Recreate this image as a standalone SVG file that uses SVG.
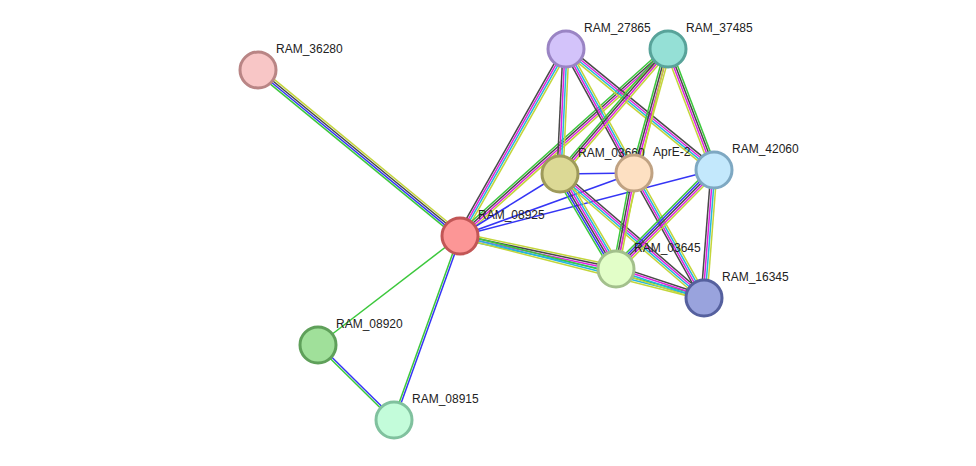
<svg xmlns="http://www.w3.org/2000/svg" width="976" height="466" viewBox="0 0 976 466">
<style>
line{stroke-width:1.5;fill:none}
.g{stroke:#3cc83c}.b{stroke:#3535f5}.k{stroke:#484848}.m{stroke:#dd22dd}.c{stroke:#25b5dc}.y{stroke:#c3d53a}
.node circle{stroke-width:3}
text{font-family:"Liberation Sans",Arial,sans-serif;font-size:12px;fill:#222}
</style>
<rect width="976" height="466" fill="#ffffff"/>
<g id="edges">
<g transform="translate(258,70) rotate(39.42)"><line class="y" x1="0" y1="-3" x2="261.5" y2="-3"/><line class="k" x1="0" y1="-1" x2="261.5" y2="-1"/><line class="b" x1="0" y1="1" x2="261.5" y2="1"/><line class="g" x1="0" y1="3" x2="261.5" y2="3"/></g>
<line class="g" x1="460" y1="236" x2="318" y2="345"/>
<g transform="translate(460,236) rotate(109.73)"><line class="b" x1="0" y1="-1" x2="195.5" y2="-1"/><line class="g" x1="0" y1="1" x2="195.5" y2="1"/></g>
<g transform="translate(318,345) rotate(44.62)"><line class="b" x1="0" y1="-1" x2="106.8" y2="-1"/><line class="g" x1="0" y1="1" x2="106.8" y2="1"/></g>
<g transform="translate(460,236) rotate(-60.46)"><line class="k" x1="0" y1="-3" x2="215" y2="-3"/><line class="m" x1="0" y1="-1" x2="215" y2="-1"/><line class="c" x1="0" y1="1" x2="215" y2="1"/><line class="y" x1="0" y1="3" x2="215" y2="3"/></g>
<g transform="translate(460,236) rotate(-41.96)"><line class="g" x1="0" y1="-3" x2="279.7" y2="-3"/><line class="k" x1="0" y1="-1" x2="279.7" y2="-1"/><line class="m" x1="0" y1="1" x2="279.7" y2="1"/><line class="y" x1="0" y1="3" x2="279.7" y2="3"/></g>
<line class="b" x1="460" y1="236" x2="560" y2="174"/>
<line class="b" x1="460" y1="236" x2="634" y2="173"/>
<line class="b" x1="460" y1="236" x2="714" y2="170"/>
<g transform="translate(460,236) rotate(11.94)"><line class="y" x1="0" y1="-3" x2="159.5" y2="-3"/><line class="k" x1="0" y1="-1" x2="159.5" y2="-1"/><line class="m" x1="0" y1="1" x2="159.5" y2="1"/><line class="c" x1="0" y1="3" x2="159.5" y2="3"/></g>
<g transform="translate(460,236) rotate(14.26)"><line class="g" x1="0" y1="-2" x2="251.8" y2="-2"/><line class="c" x1="0" y1="0" x2="251.8" y2="0"/><line class="y" x1="0" y1="2" x2="251.8" y2="2"/></g>
<g transform="translate(566,49) rotate(92.75)"><line class="k" x1="0" y1="3" x2="125.1" y2="3"/><line class="m" x1="0" y1="1" x2="125.1" y2="1"/><line class="c" x1="0" y1="-1" x2="125.1" y2="-1"/><line class="y" x1="0" y1="-3" x2="125.1" y2="-3"/></g>
<g transform="translate(566,49) rotate(61.26)"><line class="k" x1="0" y1="3" x2="141.4" y2="3"/><line class="m" x1="0" y1="1" x2="141.4" y2="1"/><line class="c" x1="0" y1="-1" x2="141.4" y2="-1"/><line class="y" x1="0" y1="-3" x2="141.4" y2="-3"/></g>
<g transform="translate(566,49) rotate(39.27)"><line class="k" x1="0" y1="-3" x2="191.2" y2="-3"/><line class="m" x1="0" y1="-1" x2="191.2" y2="-1"/><line class="c" x1="0" y1="1" x2="191.2" y2="1"/><line class="y" x1="0" y1="3" x2="191.2" y2="3"/></g>
<g transform="translate(668,49) rotate(130.83)"><line class="g" x1="0" y1="3" x2="165.2" y2="3"/><line class="k" x1="0" y1="1" x2="165.2" y2="1"/><line class="m" x1="0" y1="-1" x2="165.2" y2="-1"/><line class="y" x1="0" y1="-3" x2="165.2" y2="-3"/></g>
<g transform="translate(668,49) rotate(105.33)"><line class="g" x1="0" y1="3" x2="128.6" y2="3"/><line class="k" x1="0" y1="1" x2="128.6" y2="1"/><line class="m" x1="0" y1="-1" x2="128.6" y2="-1"/><line class="y" x1="0" y1="-3" x2="128.6" y2="-3"/></g>
<g transform="translate(668,49) rotate(69.18)"><line class="y" x1="0" y1="3" x2="129.4" y2="3"/><line class="m" x1="0" y1="1" x2="129.4" y2="1"/><line class="k" x1="0" y1="-1" x2="129.4" y2="-1"/><line class="g" x1="0" y1="-3" x2="129.4" y2="-3"/></g>
<line class="y" x1="668" y1="49" x2="616" y2="269"/>
<line class="b" x1="560" y1="174" x2="634" y2="173"/>
<g transform="translate(560,174) rotate(59.48)"><line class="g" x1="0" y1="5" x2="110.3" y2="5"/><line class="b" x1="0" y1="3" x2="110.3" y2="3"/><line class="k" x1="0" y1="1" x2="110.3" y2="1"/><line class="m" x1="0" y1="-1" x2="110.3" y2="-1"/><line class="c" x1="0" y1="-3" x2="110.3" y2="-3"/><line class="y" x1="0" y1="-5" x2="110.3" y2="-5"/></g>
<g transform="translate(560,174) rotate(40.73)"><line class="k" x1="0" y1="-3" x2="190" y2="-3"/><line class="m" x1="0" y1="-1" x2="190" y2="-1"/><line class="c" x1="0" y1="1" x2="190" y2="1"/><line class="y" x1="0" y1="3" x2="190" y2="3"/></g>
<g transform="translate(634,173) rotate(100.62)"><line class="g" x1="0" y1="3" x2="97.7" y2="3"/><line class="k" x1="0" y1="1" x2="97.7" y2="1"/><line class="m" x1="0" y1="-1" x2="97.7" y2="-1"/><line class="y" x1="0" y1="-3" x2="97.7" y2="-3"/></g>
<g transform="translate(634,173) rotate(60.75)"><line class="k" x1="0" y1="3" x2="143.3" y2="3"/><line class="m" x1="0" y1="1" x2="143.3" y2="1"/><line class="c" x1="0" y1="-1" x2="143.3" y2="-1"/><line class="y" x1="0" y1="-3" x2="143.3" y2="-3"/></g>
<g transform="translate(714,170) rotate(134.71)"><line class="g" x1="0" y1="4" x2="139.3" y2="4"/><line class="b" x1="0" y1="2" x2="139.3" y2="2"/><line class="k" x1="0" y1="0" x2="139.3" y2="0"/><line class="m" x1="0" y1="-2" x2="139.3" y2="-2"/><line class="y" x1="0" y1="-4" x2="139.3" y2="-4"/></g>
<g transform="translate(714,170) rotate(94.47)"><line class="k" x1="0" y1="3" x2="128.4" y2="3"/><line class="m" x1="0" y1="1" x2="128.4" y2="1"/><line class="c" x1="0" y1="-1" x2="128.4" y2="-1"/><line class="y" x1="0" y1="-3" x2="128.4" y2="-3"/></g>
<g transform="translate(616,269) rotate(18.24)"><line class="k" x1="0" y1="-3" x2="92.7" y2="-3"/><line class="m" x1="0" y1="-1" x2="92.7" y2="-1"/><line class="c" x1="0" y1="1" x2="92.7" y2="1"/><line class="y" x1="0" y1="3" x2="92.7" y2="3"/></g>
</g>
<g id="RAM_36280" class="node"><circle cx="258" cy="70" r="18" fill="#f8c6c6" stroke="#b98585"/><text x="276" y="53">RAM_36280</text></g>
<g id="RAM_27865" class="node"><circle cx="566" cy="49" r="18" fill="#d3c3fa" stroke="#9a84c4"/><text x="584" y="32">RAM_27865</text></g>
<g id="RAM_37485" class="node"><circle cx="668" cy="49" r="18" fill="#95e0d6" stroke="#58a39a"/><text x="686" y="32">RAM_37485</text></g>
<g id="RAM_03660" class="node"><circle cx="560" cy="174" r="18" fill="#dcd995" stroke="#9e9a5a"/><text x="578" y="157">RAM_03660</text></g>
<g id="AprE-2" class="node"><circle cx="634" cy="173" r="18" fill="#fde0c2" stroke="#c0a282"/><text x="653" y="156">AprE-2</text></g>
<g id="RAM_42060" class="node"><circle cx="714" cy="170" r="18" fill="#c3e8fc" stroke="#7ea8c2"/><text x="732" y="153">RAM_42060</text></g>
<g id="RAM_08925" class="node"><circle cx="460" cy="236" r="18" fill="#fc9696" stroke="#c25656"/><text x="478" y="219">RAM_08925</text></g>
<g id="RAM_03645" class="node"><circle cx="616" cy="269" r="18" fill="#e2fec8" stroke="#a3c08c"/><text x="634" y="252">RAM_03645</text></g>
<g id="RAM_16345" class="node"><circle cx="704" cy="298" r="18" fill="#99a3dd" stroke="#55609e"/><text x="722" y="281">RAM_16345</text></g>
<g id="RAM_08920" class="node"><circle cx="318" cy="345" r="18" fill="#a0e09a" stroke="#5fa05a"/><text x="336" y="328">RAM_08920</text></g>
<g id="RAM_08915" class="node"><circle cx="394" cy="420" r="18" fill="#c3fcda" stroke="#80c19e"/><text x="412" y="403">RAM_08915</text></g>
</svg>
